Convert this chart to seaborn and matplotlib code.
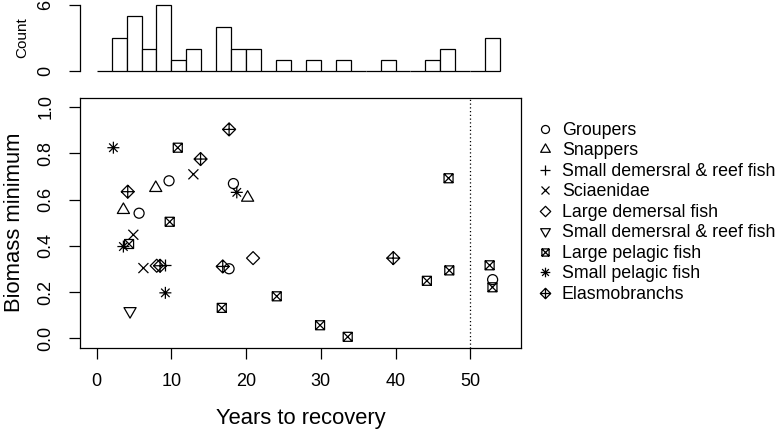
import numpy as np
import pandas as pd
import matplotlib
matplotlib.use("Agg")
import matplotlib.pyplot as plt
import seaborn as sns
from matplotlib.path import Path
from matplotlib.lines import Line2D

# ---------------- data ----------------
groupers_x = [9.68, 18.3, 5.67, 17.72, 53.0]
groupers_y = [0.681, 0.669, 0.541, 0.301, 0.254]
snappers_x = [7.9, 20.2, 3.57]
snappers_y = [0.650, 0.608, 0.555]
small_dem_plus_x = [9.15]
small_dem_plus_y = [0.318]
sciaenidae_x = [12.94, 4.9, 6.25]
sciaenidae_y = [0.709, 0.448, 0.304]
large_dem_x = [8.03, 20.93]
large_dem_y = [0.314, 0.347]
small_dem_tri_x = [4.46]
small_dem_tri_y = [0.118]
large_pel_x = [10.85, 9.77, 4.33, 16.74, 24.1, 29.9, 33.6, 44.2, 47.2, 47.1, 52.6, 52.98]
large_pel_y = [0.824, 0.504, 0.408, 0.132, 0.182, 0.057, 0.007, 0.249, 0.294, 0.692, 0.316, 0.221]
small_pel_x = [2.23, 18.75, 3.57, 9.19]
small_pel_y = [0.824, 0.631, 0.397, 0.197]
elasmo_x = [17.72, 13.9, 4.15, 8.48, 16.87, 39.7]
elasmo_y = [0.903, 0.775, 0.634, 0.314, 0.311, 0.347]

group_keys = ["grp", "snp", "sdp", "sci", "ldf", "sdt", "lpf", "spf", "ela"]
legend_labels = ["Groupers", "Snappers", "Small demersral & reef fish", "Sciaenidae",
                 "Large demersal fish", "Small demersral & reef fish",
                 "Large pelagic fish", "Small pelagic fish", "Elasmobranchs"]
xs = [groupers_x, snappers_x, small_dem_plus_x, sciaenidae_x, large_dem_x,
      small_dem_tri_x, large_pel_x, small_pel_x, elasmo_x]
ys = [groupers_y, snappers_y, small_dem_plus_y, sciaenidae_y, large_dem_y,
      small_dem_tri_y, large_pel_y, small_pel_y, elasmo_y]

x_ticks = [0, 10, 20, 30, 40, 50]
y_ticks = [0.0, 0.2, 0.4, 0.6, 0.8, 1.0]
hist_ticks = [0, 6]

df = pd.DataFrame({
    "years": np.concatenate(xs),
    "biomass": np.concatenate(ys),
    "group": np.concatenate([[k] * len(v) for k, v in zip(group_keys, xs)]),
})

# ---------------- marker shapes (R pch 1..9) ----------------
M, L, C = Path.MOVETO, Path.LINETO, Path.CLOSEPOLY
def segs(lines, closed=None):
    verts, codes = [], []
    if closed is not None:
        for i, p in enumerate(closed):
            verts.append(p); codes.append(M if i == 0 else L)
        verts.append(closed[0]); codes.append(C)
    for a, b in lines:
        verts += [a, b]; codes += [M, L]
    return Path(verts, codes)

sq = [(-1, -1), (1, -1), (1, 1), (-1, 1)]
dia = [(0, -1), (1, 0), (0, 1), (-1, 0)]
plus_l = [((-1, 0), (1, 0)), ((0, -1), (0, 1))]
x_l = [((-1, -1), (1, 1)), ((-1, 1), (1, -1))]
x_l7 = [((-0.707, -0.707), (0.707, 0.707)), ((-0.707, 0.707), (0.707, -0.707))]
tri_up = [(-1, -0.577), (1, -0.577), (0, 1.155)]
tri_dn = [(-1, 0.577), (1, 0.577), (0, -1.155)]

markers = {
    "grp": "o",
    "snp": segs([], tri_up),
    "sdp": segs(plus_l),
    "sci": segs(x_l),
    "ldf": segs([], dia),
    "sdt": segs([], tri_dn),
    "lpf": segs(x_l, sq),
    "spf": segs(plus_l + x_l7),
    "ela": segs(plus_l, dia),
}
# marker sizes in pixels (full extent)
size_px = {"grp": 10, "snp": 14, "sdp": 12, "sci": 10, "ldf": 13,
           "sdt": 14, "lpf": 9, "spf": 12, "ela": 13}

# ---------------- figure ----------------
sns.set_theme(style="ticks")
plt.rcParams["font.family"] = ["Liberation Sans", "DejaVu Sans"]
plt.rcParams["axes.linewidth"] = 0.9
for k in ["text.color", "axes.labelcolor", "xtick.color", "ytick.color",
          "axes.edgecolor"]:
    plt.rcParams[k] = "black"

W, H = 778, 433
fig = plt.figure(figsize=(W / 100, H / 100), dpi=100)
px = lambda v: v * 0.72  # pixels -> points

ax = fig.add_axes([80 / W, 1 - 347.7 / H, 441 / W, 250 / H])
axh = fig.add_axes([80 / W, 1 - 73.3 / H, 441 / W, 71.3 / H])

for key, lab in zip(group_keys, legend_labels):
    sub = df[df["group"] == key]
    sns.scatterplot(data=sub, x="years", y="biomass", ax=ax, marker=markers[key],
                    s=px(size_px[key]) ** 2, facecolor="none", edgecolor="black",
                    linewidth=0.9, legend=False)

ax.axvline(50, color="black", linestyle=(0, (1, 2.0)), linewidth=0.9)
ax.set_xlim(-2.24, 56.8)
ax.set_ylim(-0.04, 1.04)
ax.set_xticks(x_ticks)
ax.set_xticklabels([str(t) for t in x_ticks])
ax.set_yticks(y_ticks)
ax.set_yticklabels([f"{t:.1f}" for t in y_ticks])
for s in ax.spines.values():
    s.set_visible(True); s.set_linewidth(0.9); s.set_color("black")
ax.tick_params(axis="both", direction="out", length=px(11), width=0.9,
               labelsize=13, pad=10.5, colors="black")
for t in ax.get_yticklabels():
    t.set_rotation(90); t.set_va("center")
ax.set_xlabel("Years to recovery", fontsize=15.8, color="black")
ax.set_ylabel("Biomass minimum", fontsize=15.8, color="black")
ax.xaxis.set_label_coords(0.5, -0.24)
ax.yaxis.set_label_coords(-0.1256, 0.5)

# histogram of years
sns.histplot(data=df, x="years", bins=np.arange(0, 55, 2), ax=axh,
             color="white", edgecolor="black", linewidth=0.9, alpha=1)
axh.set_xlim(-2.24, 56.8)
axh.set_ylim(-0.24, 6.24)
for side in ["top", "right", "bottom"]:
    axh.spines[side].set_visible(False)
axh.spines["left"].set_bounds(0, 6)
axh.spines["left"].set_linewidth(0.9)
axh.spines["left"].set_color("black")
axh.set_xticks([])
axh.set_xlabel("")
axh.set_yticks(hist_ticks)
axh.set_yticklabels([str(t) for t in hist_ticks])
axh.tick_params(axis="y", direction="out", length=px(11.5), width=0.9,
                labelsize=13, pad=10.5, colors="black")
for t in axh.get_yticklabels():
    t.set_rotation(90); t.set_va("center")
axh.set_ylabel("")
fig.text(22.5 / W, 1 - 37.7 / H, "Count", rotation=90, ha="center", va="center",
         fontsize=11, color="black")

# legend
handles = [Line2D([], [], linestyle="none", marker=markers[k],
                  markersize=px(size_px[k]) * 0.8, markerfacecolor="none",
                  markeredgecolor="black", markeredgewidth=0.9)
           for k in group_keys]
fig.legend(handles, legend_labels, loc="upper left",
           bbox_to_anchor=(536 / W, 1 - 122 / H), frameon=False,
           fontsize=12.8, handlelength=1.0, handletextpad=0.45,
           labelspacing=0.195, borderpad=0, borderaxespad=0, labelcolor="black")

fig.savefig("out.png", dpi=100)
